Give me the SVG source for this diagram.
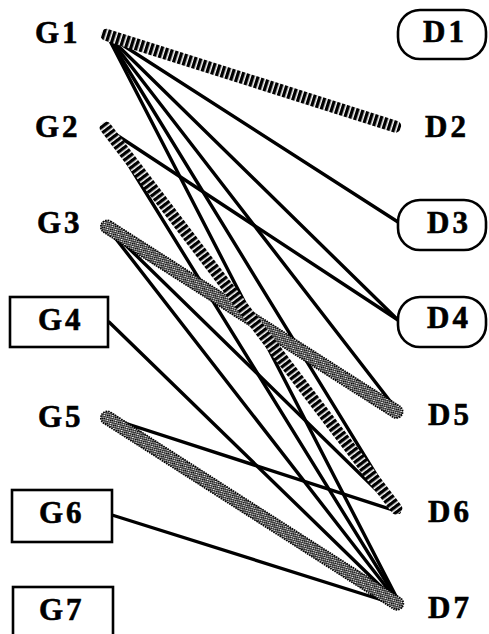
<svg xmlns="http://www.w3.org/2000/svg" width="489" height="634" viewBox="0 0 489 634">
  <style>
    .lbl { font-family: "Liberation Serif", "Times New Roman", serif; font-weight: bold; font-size: 31px; letter-spacing: 3px; fill: #000; stroke: #000; stroke-width: 0.6px; }
    .box { fill: #fff; stroke: #000; stroke-width: 2.6; }
    .edge { stroke: #000; stroke-width: 3.4; stroke-linecap: round; fill: none; }
    .hatch { fill: url(#hatch); }
    .dots { fill: url(#stipple); stroke: #000; stroke-width: 1.6; stroke-dasharray: 1.5 1; }
  </style>
  <defs>
    <!-- cross bars, laid out along the local x axis of each rotated band -->
    <pattern id="hatch" patternUnits="userSpaceOnUse" width="5" height="4">
      <rect width="5" height="4" fill="#fff"/>
      <rect width="3.4" height="4" fill="#000"/>
    </pattern>
    <!-- fine dot screen -->
    <pattern id="stipple" patternUnits="userSpaceOnUse" width="2.6" height="2.6">
      <rect width="2.6" height="2.6" fill="#fff"/>
      <circle cx="0.65" cy="0.65" r="0.9" fill="#000"/>
      <circle cx="1.95" cy="1.95" r="0.9" fill="#000"/>
    </pattern>
  </defs>

  <rect width="489" height="634" fill="#fff"/>

  <!-- connectors: thin links first, wide bands over them -->
  <g id="connectors">
    <line class="edge" x1="107" y1="35" x2="398" y2="222"/>
    <line class="edge" x1="107" y1="35" x2="398" y2="320"/>
    <line class="edge" x1="107" y1="35" x2="400" y2="414"/>
    <line class="edge" x1="107" y1="35" x2="399" y2="512"/>
    <line class="edge" x1="107" y1="35" x2="401" y2="606"/>
    <line class="edge" x1="106" y1="128" x2="398" y2="320"/>
    <line class="edge" x1="106" y1="128" x2="401" y2="606"/>
    <line class="edge" x1="106" y1="226" x2="399" y2="512"/>
    <line class="edge" x1="106" y1="226" x2="401" y2="606"/>
    <line class="edge" x1="109" y1="322" x2="401" y2="606"/>
    <line class="edge" x1="106" y1="417" x2="399" y2="512"/>
    <line class="edge" x1="112" y1="515" x2="401" y2="606"/>

    <!-- G3 to D5 -->
    <g transform="translate(106 226) rotate(32.6)">
      <rect class="dots" x="-5" y="-6.5" width="356" height="13" rx="6.5"/>
    </g>
    <!-- G5 to D7 -->
    <g transform="translate(106 417) rotate(32.65)">
      <rect class="dots" x="-5" y="-6.5" width="357" height="13" rx="6.5"/>
    </g>
    <!-- G1 to D2 -->
    <g transform="translate(107 35) rotate(17.61)">
      <rect class="hatch" x="-6" y="-6" width="314" height="12" rx="5"/>
    </g>
    <!-- G2 to D6 -->
    <g transform="translate(106 128) rotate(52.66)">
      <rect class="hatch" x="-6" y="-6" width="490" height="12" rx="5"/>
    </g>
  </g>

  <!-- sources -->
  <g id="G1"><text class="lbl" x="35" y="43">G1</text></g>
  <g id="G2"><text class="lbl" x="35" y="137">G2</text></g>
  <g id="G3"><text class="lbl" x="37" y="233">G3</text></g>
  <g id="G4"><rect class="box" x="10" y="297" width="98" height="50"/><text class="lbl" x="38" y="330">G4</text></g>
  <g id="G5"><text class="lbl" x="38" y="427">G5</text></g>
  <g id="G6"><rect class="box" x="12" y="490" width="100" height="52"/><text class="lbl" x="39" y="523">G6</text></g>
  <g id="G7"><rect class="box" x="13" y="587" width="100" height="60"/><text class="lbl" x="39" y="620">G7</text></g>

  <!-- targets -->
  <g id="D1"><rect class="box" x="398" y="10" width="88" height="49" rx="22"/><text class="lbl" x="423" y="42">D1</text></g>
  <g id="D2"><text class="lbl" x="425" y="137">D2</text></g>
  <g id="D3"><rect class="box" x="398" y="200" width="88" height="50" rx="22"/><text class="lbl" x="427" y="233">D3</text></g>
  <g id="D4"><rect class="box" x="398" y="297" width="88" height="50" rx="22"/><text class="lbl" x="427" y="328">D4</text></g>
  <g id="D5"><text class="lbl" x="428" y="425">D5</text></g>
  <g id="D6"><text class="lbl" x="428" y="522">D6</text></g>
  <g id="D7"><text class="lbl" x="428" y="618">D7</text></g>
</svg>
